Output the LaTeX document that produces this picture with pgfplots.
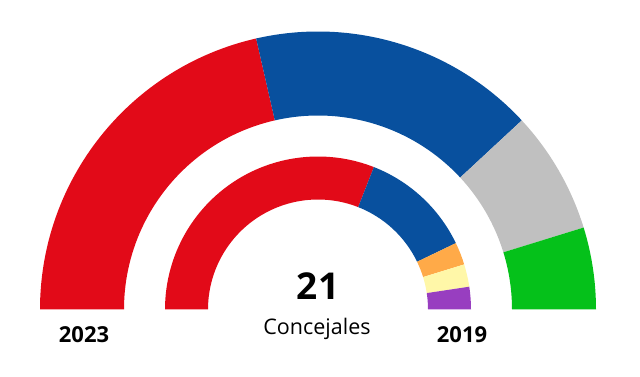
\documentclass[border=0pt]{standalone}
\usepackage{pgfplots}
\pgfplotsset{compat=1.18}
\usepackage{fontspec}
\setmainfont{Open Sans}
\definecolor{cRed}{RGB}{226,10,24}
\definecolor{cBlue}{RGB}{8,80,158}
\definecolor{cGray}{RGB}{192,192,192}
\definecolor{cGreen}{RGB}{5,193,26}
\definecolor{cOrange}{RGB}{255,170,72}
\definecolor{cYellow}{RGB}{255,247,168}
\definecolor{cPurple}{RGB}{152,62,192}
% #1 colour, #2 seats before, #3 seats, #4 inner radius, #5 outer radius
\newcommand{\seat}[5]{%
  \fill[#1, shift={(axis cs:318,67.5)}]
    ({180-180*#2/21}:#5) arc[start angle={180-180*#2/21}, end angle={180-180*(#2+#3)/21}, radius=#5]
    -- ({180-180*(#2+#3)/21}:#4) arc[start angle={180-180*(#2+#3)/21}, end angle={180-180*#2/21}, radius=#4]
    -- cycle;}
\begin{document}
\begin{tikzpicture}
\begin{axis}[
  x=1pt, y=1pt, xmin=0, xmax=640, ymin=0, ymax=377,
  scale only axis, hide axis, clip=false,
]
\path (axis cs:0,0) rectangle (axis cs:640,377);
% 2023 (outer ring): 9, 7, 3, 2
\seat{cRed}{0}{9}{194}{278}
\seat{cBlue}{9}{7}{194}{278}
\seat{cGray}{16}{3}{194}{278}
\seat{cGreen}{19}{2}{194}{278}
% 2019 (inner ring): 13, 5, 1, 1, 1
\seat{cRed}{0}{13}{110}{153}
\seat{cBlue}{13}{5}{110}{153}
\seat{cOrange}{18}{1}{110}{153}
\seat{cYellow}{19}{1}{110}{153}
\seat{cPurple}{20}{1}{110}{153}
\node[font=\fontsize{22}{26}\selectfont\bfseries] at (axis cs:84,42) {2023};
\node[font=\fontsize{22}{26}\selectfont\bfseries] at (axis cs:462,42) {2019};
\node[font=\fontsize{37}{42}\selectfont\bfseries] at (axis cs:318,91) {21};
\node[font=\fontsize{21.5}{25}\selectfont] at (axis cs:317,48) {Concejales};
\end{axis}
\end{tikzpicture}
\end{document}
